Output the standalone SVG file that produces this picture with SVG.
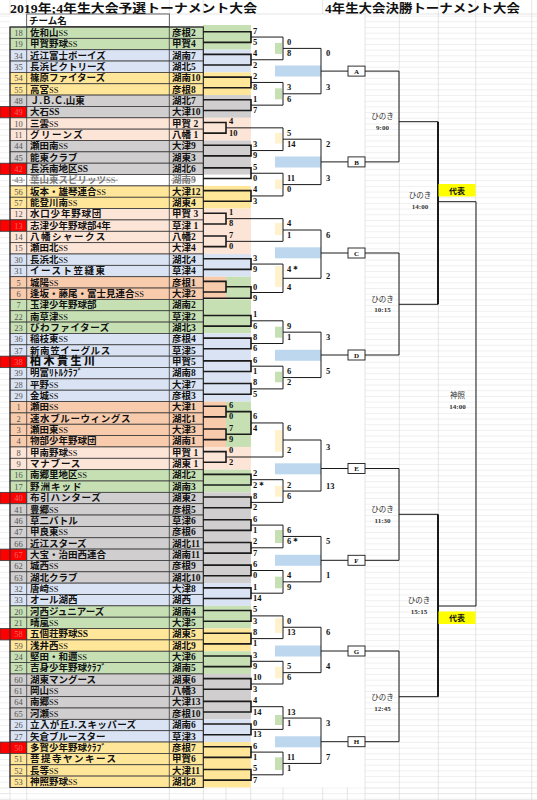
<svg xmlns="http://www.w3.org/2000/svg" width="537" height="800" viewBox="0 0 537 800">
<defs>
<pattern id="grid" patternUnits="userSpaceOnUse" x="0" y="4.3" width="537" height="5.675"><path d="M0 0.3H537" stroke="#dedede" stroke-width="0.6"/></pattern>
<style>
.G{fill:#c6e0b4}.B{fill:#dae3f3}.Y{fill:#ffe699}.R{fill:#d0cece}.P{fill:#fce4d6}.O{fill:#f8cbad}.W{fill:#ffffff}
.row rect{stroke:#3a3a3a;stroke-width:0.8}
.red{fill:#ff0000}
.n{font:8.5px "Liberation Serif",serif;fill:#555;text-anchor:middle}
.rn{fill:#e86a6a}
.t{font:bold 9.5px "Liberation Serif","Noto Sans CJK JP",serif;fill:#111}
.s{font-weight:normal;font-size:8.5px}
.big{font-size:11px;letter-spacing:2.5px;font-weight:900}
.k{fill:#7a7a7a}
.sc{font:bold 8.5px "Liberation Serif",serif;fill:#111}
.ln{fill:none;stroke:#1a1a1a;stroke-width:1}
.l1{fill:none;stroke:#1a1a1a;stroke-width:1.6}
.thick{fill:none;stroke:#1a1a1a;stroke-width:2}
.gl{stroke:#d4d4d4;stroke-width:0.6}
.tick-g{fill:#c6e0b4}.tick-y{fill:#fff2cc}
.band{fill:#bdd7ee}
.box rect{fill:#fff;stroke:#1a1a1a;stroke-width:0.9}
.box text{font:bold 7px "Liberation Serif",serif;fill:#111;text-anchor:middle}
.lab{font:7.5px "Liberation Serif","Noto Sans CJK JP",serif;fill:#333;text-anchor:middle}
.tm{font:bold 7px "Liberation Serif",serif;fill:#333;text-anchor:middle}
.rep rect{fill:#ffff00}
.rep text{font:bold 8px "Liberation Serif","Noto Sans CJK JP",serif;fill:#111;text-anchor:middle}
.title{font:bold 12px "Liberation Serif","Noto Sans CJK JP",serif;fill:#111}
</style>
</defs>
<rect x="0" y="0" width="537" height="800" fill="#ffffff"/>
<g id="sheet-grid">
<rect x="365" y="14" width="172" height="786" fill="url(#grid)"/>
<rect x="0" y="14" width="10" height="786" fill="url(#grid)"/>
<rect x="0" y="787.5" width="537" height="12.5" fill="url(#grid)"/>
<path class="gl" d="M399.3 0V800M438.3 0V800M475.7 0V800M531.7 0V800M365 0V800M10 0V14M26.7 0V14M169.3 0V14M203.3 0V14M250.7 0V14M322.7 0V14M347.3 0V14M0 14H537M10 787.5V800M26.7 787.5V800M169.3 787.5V800M203.3 787.5V800M226 787.5V800M250.7 787.5V800M283 787.5V800M322.7 787.5V800M347.3 787.5V800"/>
</g>
<text class="title" x="10" y="12.5" textLength="247" lengthAdjust="spacingAndGlyphs">2019年;4年生大会予選トーナメント大会</text>
<text class="title" x="325" y="12.5" textLength="195" lengthAdjust="spacingAndGlyphs">4年生大会決勝トーナメント大会</text>

<g id="bands">
<rect class="G" x="203" y="25" width="48" height="24.7"/>
<rect class="B" x="203" y="49.7" width="48" height="22.7"/>
<rect class="Y" x="203" y="72.4" width="48" height="22.7"/>
<rect class="R" x="203" y="95.1" width="48" height="22.7"/>
<rect class="P" x="203" y="117.8" width="48" height="22.7"/>
<rect class="R" x="203" y="140.5" width="48" height="34.05"/>
<rect class="Y" x="203" y="185.9" width="48" height="22.7"/>
<rect class="P" x="203" y="208.6" width="48" height="45.4"/>
<rect class="B" x="203" y="254" width="48" height="22.7"/>
<rect class="O" x="203" y="276.7" width="23" height="22.7"/>
<rect class="G" x="226" y="276.7" width="25" height="22.7"/>
<rect class="G" x="203" y="299.4" width="48" height="34.05"/>
<rect class="B" x="203" y="333.45" width="48" height="68.1"/>
<rect class="O" x="203" y="401.55" width="23" height="45.4"/>
<rect class="G" x="226" y="401.55" width="25" height="45.4"/>
<rect class="P" x="203" y="446.95" width="48" height="22.7"/>
<rect class="G" x="203" y="469.65" width="48" height="22.7"/>
<rect class="R" x="203" y="492.35" width="48" height="90.8"/>
<rect class="B" x="203" y="583.15" width="48" height="22.7"/>
<rect class="G" x="203" y="605.85" width="48" height="22.7"/>
<rect class="Y" x="203" y="628.55" width="48" height="22.7"/>
<rect class="G" x="203" y="651.25" width="48" height="22.7"/>
<rect class="R" x="203" y="673.95" width="48" height="45.4"/>
<rect class="B" x="203" y="719.35" width="48" height="22.7"/>
<rect class="Y" x="203" y="742.05" width="48" height="45.4"/>
</g>

<g id="header"><rect x="26.7" y="14" width="142.6" height="12.5" fill="#fff" stroke="#3a3a3a" stroke-width="0.8"/><text class="t" x="29" y="24">チーム名</text></g>

<g id="teams">
<g id="t18" class="row"><rect class="G" x="10" y="27" width="193.3" height="11.35"/><text class="n" x="18.5" y="35.8">18</text><text class="t" x="30" y="35.8">佐和山<tspan class="s">SS</tspan></text><text class="t" x="172" y="35.8">彦根2</text></g>
<g id="t19" class="row"><rect class="G" x="10" y="38.35" width="193.3" height="11.35"/><text class="n" x="18.5" y="47.15">19</text><text class="t" x="30" y="47.15">甲賀野球<tspan class="s">SS</tspan></text><text class="t" x="172" y="47.15">甲賀4</text></g>
<g id="t34" class="row"><rect class="B" x="10" y="49.7" width="193.3" height="11.35"/><text class="n" x="18.5" y="58.5">34</text><text class="t" x="30" y="58.5">近江富士ボーイズ</text><text class="t" x="172" y="58.5">湖南7</text></g>
<g id="t35" class="row"><rect class="B" x="10" y="61.05" width="193.3" height="11.35"/><text class="n" x="18.5" y="69.85">35</text><text class="t" x="30" y="69.85">長浜ビクトリーズ</text><text class="t" x="172" y="69.85">湖北5</text></g>
<g id="t54" class="row"><rect class="Y" x="10" y="72.4" width="193.3" height="11.35"/><text class="n" x="18.5" y="81.2">54</text><text class="t" x="30" y="81.2">篠原ファイターズ</text><text class="t" x="172" y="81.2">湖南10</text></g>
<g id="t55" class="row"><rect class="Y" x="10" y="83.75" width="193.3" height="11.35"/><text class="n" x="18.5" y="92.55">55</text><text class="t" x="30" y="92.55">高宮<tspan class="s">SS</tspan></text><text class="t" x="172" y="92.55">彦根8</text></g>
<g id="t48" class="row"><rect class="R" x="10" y="95.1" width="193.3" height="11.35"/><text class="n" x="18.5" y="103.9">48</text><text class="t" x="30" y="103.9">Ｊ.Ｂ.Ｃ.山東</text><text class="t" x="172" y="103.9">湖北7</text></g>
<g id="t49" class="row"><rect class="R" x="10" y="106.45" width="193.3" height="11.35"/><rect class="red" x="0" y="106.45" width="26.7" height="11.35"/><text class="n rn" x="18.5" y="115.25">49</text><text class="t" x="30" y="115.25">大石SS</text><text class="t" x="172" y="115.25">大津10</text></g>
<g id="t10" class="row"><rect class="P" x="10" y="117.8" width="193.3" height="11.35"/><text class="n" x="18.5" y="126.6">10</text><text class="t" x="30" y="126.6">三雲<tspan class="s">SS</tspan></text><text class="t" x="172" y="126.6">甲賀 2</text></g>
<g id="t11" class="row"><rect class="P" x="10" y="129.15" width="193.3" height="11.35"/><text class="n" x="18.5" y="137.95">11</text><text class="t" x="30" y="137.95" letter-spacing="1.5">グリーンズ</text><text class="t" x="172" y="137.95">八幡 1</text></g>
<g id="t44" class="row"><rect class="R" x="10" y="140.5" width="193.3" height="11.35"/><text class="n" x="18.5" y="149.3">44</text><text class="t" x="30" y="149.3">瀬田南<tspan class="s">SS</tspan></text><text class="t" x="172" y="149.3">大津9</text></g>
<g id="t45" class="row"><rect class="R" x="10" y="151.85" width="193.3" height="11.35"/><text class="n" x="18.5" y="160.65">45</text><text class="t" x="30" y="160.65">能東クラブ</text><text class="t" x="172" y="160.65">湖東3</text></g>
<g id="t42" class="row"><rect class="R" x="10" y="163.2" width="193.3" height="11.35"/><rect class="red" x="0" y="163.2" width="26.7" height="11.35"/><text class="n rn" x="18.5" y="172">42</text><text class="t" x="30" y="172">長浜南地区SS</text><text class="t" x="172" y="172">湖北6</text></g>
<g id="t43" class="row"><rect class="W" x="10" y="174.55" width="193.3" height="11.35"/><text class="n k" x="18.5" y="183.35">43</text><text class="t k" x="30" y="183.35" font-weight="normal">葉山東スピリッツ<tspan class="s">SS</tspan></text><text class="t k" x="172" y="183.35" font-weight="normal">湖南9</text><path d="M12 180.2H25M29 180.2H118M171 180.2H196" stroke="#777" stroke-width="0.7"/></g>
<g id="t56" class="row"><rect class="Y" x="10" y="185.9" width="193.3" height="11.35"/><text class="n" x="18.5" y="194.7">56</text><text class="t" x="30" y="194.7">坂本・雄琴連合<tspan class="s">SS</tspan></text><text class="t" x="172" y="194.7">大津12</text></g>
<g id="t57" class="row"><rect class="Y" x="10" y="197.25" width="193.3" height="11.35"/><text class="n" x="18.5" y="206.05">57</text><text class="t" x="30" y="206.05">能登川南<tspan class="s">SS</tspan></text><text class="t" x="172" y="206.05">湖東4</text></g>
<g id="t12" class="row"><rect class="P" x="10" y="208.6" width="193.3" height="11.35"/><text class="n" x="18.5" y="217.4">12</text><text class="t" x="30" y="217.4" letter-spacing="0.8">水口少年野球団</text><text class="t" x="172" y="217.4">甲賀 3</text></g>
<g id="t13" class="row"><rect class="P" x="10" y="219.95" width="193.3" height="11.35"/><rect class="red" x="0" y="219.95" width="26.7" height="11.35"/><text class="n rn" x="18.5" y="228.75">13</text><text class="t" x="30" y="228.75" font-weight="900">志津少年野球部4年</text><text class="t" x="172" y="228.75">草津 1</text></g>
<g id="t14" class="row"><rect class="P" x="10" y="231.3" width="193.3" height="11.35"/><text class="n" x="18.5" y="240.1">14</text><text class="t" x="30" y="240.1" letter-spacing="1.5">八幡シャークス</text><text class="t" x="172" y="240.1">八幡2</text></g>
<g id="t15" class="row"><rect class="P" x="10" y="242.65" width="193.3" height="11.35"/><text class="n" x="18.5" y="251.45">15</text><text class="t" x="30" y="251.45">瀬田北<tspan class="s">SS</tspan></text><text class="t" x="172" y="251.45">大津4</text></g>
<g id="t30" class="row"><rect class="B" x="10" y="254" width="193.3" height="11.35"/><text class="n" x="18.5" y="262.8">30</text><text class="t" x="30" y="262.8">長浜北<tspan class="s">SS</tspan></text><text class="t" x="172" y="262.8">湖北4</text></g>
<g id="t31" class="row"><rect class="B" x="10" y="265.35" width="193.3" height="11.35"/><text class="n" x="18.5" y="274.15">31</text><text class="t" x="30" y="274.15" letter-spacing="1.5">イースト笠縫東</text><text class="t" x="172" y="274.15">草津4</text></g>
<g id="t5" class="row"><rect class="O" x="10" y="276.7" width="193.3" height="11.35"/><text class="n" x="18.5" y="285.5">5</text><text class="t" x="30" y="285.5">城陽<tspan class="s">SS</tspan></text><text class="t" x="172" y="285.5">彦根1</text></g>
<g id="t6" class="row"><rect class="O" x="10" y="288.05" width="193.3" height="11.35"/><text class="n" x="18.5" y="296.85">6</text><text class="t" x="30" y="296.85">逢坂・藤尾・富士見連合<tspan class="s">SS</tspan></text><text class="t" x="172" y="296.85">大津2</text></g>
<g id="t7" class="row"><rect class="G" x="10" y="299.4" width="193.3" height="11.35"/><text class="n" x="18.5" y="308.2">7</text><text class="t" x="30" y="308.2">玉津少年野球部</text><text class="t" x="172" y="308.2">湖南2</text></g>
<g id="t22" class="row"><rect class="G" x="10" y="310.75" width="193.3" height="11.35"/><text class="n" x="18.5" y="319.55">22</text><text class="t" x="30" y="319.55">南草津<tspan class="s">SS</tspan></text><text class="t" x="172" y="319.55">草津2</text></g>
<g id="t23" class="row"><rect class="G" x="10" y="322.1" width="193.3" height="11.35"/><text class="n" x="18.5" y="330.9">23</text><text class="t" x="30" y="330.9" letter-spacing="0.6">びわファイターズ</text><text class="t" x="172" y="330.9">湖北3</text></g>
<g id="t36" class="row"><rect class="B" x="10" y="333.45" width="193.3" height="11.35"/><text class="n" x="18.5" y="342.25">36</text><text class="t" x="30" y="342.25">稲枝東<tspan class="s">SS</tspan></text><text class="t" x="172" y="342.25">彦根4</text></g>
<g id="t37" class="row"><rect class="B" x="10" y="344.8" width="193.3" height="11.35"/><text class="n" x="18.5" y="353.6">37</text><text class="t" x="30" y="353.6" letter-spacing="0.6">新南笠イーグルス</text><text class="t" x="172" y="353.6">草津5</text></g>
<g id="t38" class="row"><rect class="B" x="10" y="356.15" width="193.3" height="11.35"/><rect class="red" x="0" y="356.15" width="26.7" height="11.35"/><text class="n rn" x="18.5" y="364.95">38</text><text class="t big" x="30" y="365.4">柏木貴生川</text><text class="t" x="172" y="364.95">甲賀5</text></g>
<g id="t39" class="row"><rect class="B" x="10" y="367.5" width="193.3" height="11.35"/><text class="n" x="18.5" y="376.3">39</text><text class="t" x="30" y="376.3">明富ﾘﾄﾙｸﾗﾌﾞ</text><text class="t" x="172" y="376.3">湖南8</text></g>
<g id="t28" class="row"><rect class="B" x="10" y="378.85" width="193.3" height="11.35"/><text class="n" x="18.5" y="387.65">28</text><text class="t" x="30" y="387.65">平野<tspan class="s">SS</tspan></text><text class="t" x="172" y="387.65">大津7</text></g>
<g id="t29" class="row"><rect class="B" x="10" y="390.2" width="193.3" height="11.35"/><text class="n" x="18.5" y="399">29</text><text class="t" x="30" y="399">金城<tspan class="s">SS</tspan></text><text class="t" x="172" y="399">彦根3</text></g>
<g id="t1" class="row"><rect class="O" x="10" y="401.55" width="193.3" height="11.35"/><text class="n" x="18.5" y="410.35">1</text><text class="t" x="30" y="410.35">瀬田<tspan class="s">SS</tspan></text><text class="t" x="172" y="410.35">大津1</text></g>
<g id="t2" class="row"><rect class="O" x="10" y="412.9" width="193.3" height="11.35"/><text class="n" x="18.5" y="421.7">2</text><text class="t" x="30" y="421.7" letter-spacing="0.6">速水ブルーウィングス</text><text class="t" x="172" y="421.7">湖北1</text></g>
<g id="t3" class="row"><rect class="O" x="10" y="424.25" width="193.3" height="11.35"/><text class="n" x="18.5" y="433.05">3</text><text class="t" x="30" y="433.05">瀬田東<tspan class="s">SS</tspan></text><text class="t" x="172" y="433.05">大津3</text></g>
<g id="t4" class="row"><rect class="O" x="10" y="435.6" width="193.3" height="11.35"/><text class="n" x="18.5" y="444.4">4</text><text class="t" x="30" y="444.4">物部少年野球団</text><text class="t" x="172" y="444.4">湖南1</text></g>
<g id="t8" class="row"><rect class="P" x="10" y="446.95" width="193.3" height="11.35"/><text class="n" x="18.5" y="455.75">8</text><text class="t" x="30" y="455.75">甲南野球<tspan class="s">SS</tspan></text><text class="t" x="172" y="455.75">甲賀 1</text></g>
<g id="t9" class="row"><rect class="P" x="10" y="458.3" width="193.3" height="11.35"/><text class="n" x="18.5" y="467.1">9</text><text class="t" x="30" y="467.1" letter-spacing="0.8">マナブース</text><text class="t" x="172" y="467.1">湖東 1</text></g>
<g id="t16" class="row"><rect class="G" x="10" y="469.65" width="193.3" height="11.35"/><text class="n" x="18.5" y="478.45">16</text><text class="t" x="30" y="478.45">南郷里地区<tspan class="s">SS</tspan></text><text class="t" x="172" y="478.45">湖北2</text></g>
<g id="t17" class="row"><rect class="G" x="10" y="481" width="193.3" height="11.35"/><text class="n" x="18.5" y="489.8">17</text><text class="t" x="30" y="489.8" letter-spacing="1">野洲キッド</text><text class="t" x="172" y="489.8">湖南3</text></g>
<g id="t40" class="row"><rect class="R" x="10" y="492.35" width="193.3" height="11.35"/><rect class="red" x="0" y="492.35" width="26.7" height="11.35"/><text class="n rn" x="18.5" y="501.15">40</text><text class="t" x="30" y="501.15" font-weight="900" letter-spacing="0.8">布引ハンターズ</text><text class="t" x="172" y="501.15">湖東2</text></g>
<g id="t41" class="row"><rect class="R" x="10" y="503.7" width="193.3" height="11.35"/><text class="n" x="18.5" y="512.5">41</text><text class="t" x="30" y="512.5">豊郷<tspan class="s">SS</tspan></text><text class="t" x="172" y="512.5">彦根5</text></g>
<g id="t46" class="row"><rect class="R" x="10" y="515.05" width="193.3" height="11.35"/><text class="n" x="18.5" y="523.85">46</text><text class="t" x="30" y="523.85">草二バトル</text><text class="t" x="172" y="523.85">草津6</text></g>
<g id="t47" class="row"><rect class="R" x="10" y="526.4" width="193.3" height="11.35"/><text class="n" x="18.5" y="535.2">47</text><text class="t" x="30" y="535.2">甲良東<tspan class="s">SS</tspan></text><text class="t" x="172" y="535.2">彦根6</text></g>
<g id="t66" class="row"><rect class="R" x="10" y="537.75" width="193.3" height="11.35"/><text class="n" x="18.5" y="546.55">66</text><text class="t" x="30" y="546.55">近江スターズ</text><text class="t" x="172" y="546.55">湖北11</text></g>
<g id="t67" class="row"><rect class="R" x="10" y="549.1" width="193.3" height="11.35"/><rect class="red" x="0" y="549.1" width="26.7" height="11.35"/><text class="n rn" x="18.5" y="557.9">67</text><text class="t" x="30" y="557.9" font-weight="900">大宝・治田西連合</text><text class="t" x="172" y="557.9">湖南11</text></g>
<g id="t62" class="row"><rect class="R" x="10" y="560.45" width="193.3" height="11.35"/><text class="n" x="18.5" y="569.25">62</text><text class="t" x="30" y="569.25">城西<tspan class="s">SS</tspan></text><text class="t" x="172" y="569.25">彦根9</text></g>
<g id="t63" class="row"><rect class="R" x="10" y="571.8" width="193.3" height="11.35"/><text class="n" x="18.5" y="580.6">63</text><text class="t" x="30" y="580.6">湖北クラブ</text><text class="t" x="172" y="580.6">湖北10</text></g>
<g id="t32" class="row"><rect class="B" x="10" y="583.15" width="193.3" height="11.35"/><text class="n" x="18.5" y="591.95">32</text><text class="t" x="30" y="591.95">唐崎<tspan class="s">SS</tspan></text><text class="t" x="172" y="591.95">大津8</text></g>
<g id="t33" class="row"><rect class="B" x="10" y="594.5" width="193.3" height="11.35"/><text class="n" x="18.5" y="603.3">33</text><text class="t" x="30" y="603.3">オール湖西</text><text class="t" x="172" y="603.3">湖西</text></g>
<g id="t20" class="row"><rect class="G" x="10" y="605.85" width="193.3" height="11.35"/><text class="n" x="18.5" y="614.65">20</text><text class="t" x="30" y="614.65">河西ジュニアーズ</text><text class="t" x="172" y="614.65">湖南4</text></g>
<g id="t21" class="row"><rect class="G" x="10" y="617.2" width="193.3" height="11.35"/><text class="n" x="18.5" y="626">21</text><text class="t" x="30" y="626">晴嵐<tspan class="s">SS</tspan></text><text class="t" x="172" y="626">大津5</text></g>
<g id="t58" class="row"><rect class="Y" x="10" y="628.55" width="193.3" height="11.35"/><rect class="red" x="0" y="628.55" width="26.7" height="11.35"/><text class="n rn" x="18.5" y="637.35">58</text><text class="t" x="30" y="637.35" font-weight="900">五個荘野球SS</text><text class="t" x="172" y="637.35">湖東5</text></g>
<g id="t59" class="row"><rect class="Y" x="10" y="639.9" width="193.3" height="11.35"/><text class="n" x="18.5" y="648.7">59</text><text class="t" x="30" y="648.7">浅井西<tspan class="s">SS</tspan></text><text class="t" x="172" y="648.7">湖北9</text></g>
<g id="t24" class="row"><rect class="G" x="10" y="651.25" width="193.3" height="11.35"/><text class="n" x="18.5" y="660.05">24</text><text class="t" x="30" y="660.05">堅田・和邇<tspan class="s">SS</tspan></text><text class="t" x="172" y="660.05">大津6</text></g>
<g id="t25" class="row"><rect class="G" x="10" y="662.6" width="193.3" height="11.35"/><text class="n" x="18.5" y="671.4">25</text><text class="t" x="30" y="671.4">吉身少年野球ｸﾗﾌﾞ</text><text class="t" x="172" y="671.4">湖南5</text></g>
<g id="t60" class="row"><rect class="R" x="10" y="673.95" width="193.3" height="11.35"/><text class="n" x="18.5" y="682.75">60</text><text class="t" x="30" y="682.75">湖東マングース</text><text class="t" x="172" y="682.75">湖東6</text></g>
<g id="t61" class="row"><rect class="R" x="10" y="685.3" width="193.3" height="11.35"/><text class="n" x="18.5" y="694.1">61</text><text class="t" x="30" y="694.1">岡山<tspan class="s">SS</tspan></text><text class="t" x="172" y="694.1">八幡3</text></g>
<g id="t64" class="row"><rect class="R" x="10" y="696.65" width="193.3" height="11.35"/><text class="n" x="18.5" y="705.45">64</text><text class="t" x="30" y="705.45">南郷<tspan class="s">SS</tspan></text><text class="t" x="172" y="705.45">大津13</text></g>
<g id="t65" class="row"><rect class="R" x="10" y="708" width="193.3" height="11.35"/><text class="n" x="18.5" y="716.8">65</text><text class="t" x="30" y="716.8">河瀬<tspan class="s">SS</tspan></text><text class="t" x="172" y="716.8">彦根10</text></g>
<g id="t26" class="row"><rect class="B" x="10" y="719.35" width="193.3" height="11.35"/><text class="n" x="18.5" y="728.15">26</text><text class="t" x="30" y="728.15" letter-spacing="0.4">立入が丘J.スキッパーズ</text><text class="t" x="172" y="728.15">湖南6</text></g>
<g id="t27" class="row"><rect class="B" x="10" y="730.7" width="193.3" height="11.35"/><text class="n" x="18.5" y="739.5">27</text><text class="t" x="30" y="739.5">矢倉ブルースター</text><text class="t" x="172" y="739.5">草津3</text></g>
<g id="t50" class="row"><rect class="Y" x="10" y="742.05" width="193.3" height="11.35"/><rect class="red" x="0" y="742.05" width="26.7" height="11.35"/><text class="n rn" x="18.5" y="750.85">50</text><text class="t" x="30" y="750.85" font-weight="900">多賀少年野球ｸﾗﾌﾞ</text><text class="t" x="172" y="750.85">彦根7</text></g>
<g id="t51" class="row"><rect class="Y" x="10" y="753.4" width="193.3" height="11.35"/><text class="n" x="18.5" y="762.2">51</text><text class="t" x="30" y="762.2" letter-spacing="1.5">菩提寺ヤンキース</text><text class="t" x="172" y="762.2">甲賀6</text></g>
<g id="t52" class="row"><rect class="Y" x="10" y="764.75" width="193.3" height="11.35"/><text class="n" x="18.5" y="773.55">52</text><text class="t" x="30" y="773.55">長等<tspan class="s">SS</tspan></text><text class="t" x="172" y="773.55">大津11</text></g>
<g id="t53" class="row"><rect class="Y" x="10" y="776.1" width="193.3" height="11.35"/><text class="n" x="18.5" y="784.9">53</text><text class="t" x="30" y="784.9">神照野球<tspan class="s">SS</tspan></text><text class="t" x="172" y="784.9">湖北8</text></g>
</g>
<g id="table-lines"><path d="M26.7 27V787.45M169.3 27V787.45" stroke="#3a3a3a" stroke-width="0.8"/><rect x="10" y="27" width="193.3" height="760.45" fill="none" stroke="#2a2a2a" stroke-width="1"/></g>

<g id="marks">
<rect class="tick-g" x="275" y="42.9" width="7" height="11"/>
<rect class="tick-g" x="275" y="88.3" width="7" height="11"/>
<rect class="tick-y" x="275" y="133" width="7" height="10.5"/>
<rect class="tick-y" x="275" y="179.5" width="7" height="9.5"/>
<rect class="tick-y" x="275" y="223" width="7" height="12"/>
<rect class="tick-y" x="275" y="266" width="7" height="21"/>
<rect class="tick-g" x="275" y="326.7" width="7" height="11"/>
<rect class="tick-g" x="275" y="371.7" width="7" height="10.6"/>
<rect class="tick-y" x="275" y="430" width="7" height="21.7"/>
<rect class="tick-y" x="275" y="485.7" width="7" height="11"/>
<rect class="tick-g" x="275" y="530" width="7" height="13"/>
<rect class="tick-g" x="275" y="576.7" width="7" height="11.6"/>
<rect class="tick-y" x="275" y="618" width="7" height="15"/>
<rect class="tick-y" x="275" y="666.7" width="7" height="11.6"/>
<rect class="tick-g" x="275" y="715" width="7" height="10"/>
<rect class="tick-g" x="275" y="757.3" width="7" height="12.7"/>
<rect class="band" x="275" y="65.5" width="46" height="11"/>
<rect class="band" x="275" y="156.5" width="46" height="11"/>
<rect class="band" x="275" y="247.3" width="46" height="11"/>
<rect class="band" x="275" y="349.8" width="46" height="11"/>
<rect class="band" x="275" y="463.3" width="46" height="11"/>
<rect class="band" x="275" y="554.8" width="46" height="11"/>
<rect class="band" x="275" y="645.5" width="46" height="11"/>
<rect class="band" x="275" y="736.3" width="46" height="11"/>
</g>

<g id="connectors">
<path class="l1" d="M203 31.7H251V42.35H203M203 54.4H251V65.05H203M203 77.1H251V87.75H203M203 99.8H251V110.45H203M203 145.2H251V155.85H203M203 167.9H251V178.55H203M203 190.6H251V201.25H203M203 258.7H251V269.35H203M203 315.45H251V326.1H203M203 338.15H251V348.8H203M203 360.85H251V371.5H203M203 383.55H251V394.2H203M203 474.35H251V485H203M203 497.05H251V507.7H203M203 519.75H251V530.4H203M203 542.45H251V553.1H203M203 565.15H251V575.8H203M203 587.85H251V598.5H203M203 610.55H251V621.2H203M203 633.25H251V643.9H203M203 655.95H251V666.6H203M203 678.65H251V689.3H203M203 701.35H251V712H203M203 724.05H251V734.7H203M203 746.75H251V757.4H203M203 769.45H251V780.1H203"/>
<path class="l1" d="M203 122.5H226V133.15H203M203 213.3H226V223.95H203M203 236H226V246.65H203M203 281.4H226V292.05H203M203 406.25H226V416.9H203M203 428.95H226V439.6H203M203 451.65H226V462.3H203M226 286.7H251V298.3H203M226 411.6H251V434.3H226"/>
<path class="ln" d="M251 37.05H283V59.75H251M251 82.45H283V105.15H251M226 127.85H283V150.55H251M251 173.25H283V195.95H251M226 218.65H283V241.35H226M251 264.05H283V292.5H251M251 320.8H283V343.5H251M251 366.2H283V388.9H251M251 422.95H283V457H226M251 479.7H283V502.4H251M251 525.1H283V547.8H251M251 570.5H283V593.2H251M251 615.9H283V638.6H251M251 661.3H283V684H251M251 706.7H283V729.4H251M251 752.1H283V774.8H251"/>
<path class="ln" d="M283 48.4H321V93.8H283M321 71.1H348M283 139.2H321V184.6H283M321 161.9H348M283 230H321V278.3H283M321 253H348M283 332.15H321V377.55H283M321 355H348M283 440H321V491.05H283M321 468.5H348M283 536.45H321V581.85H283M321 560.3H348M283 627.25H321V672.65H283M321 651H348M283 718.05H321V763.45H283M321 741.7H348"/>
<path class="ln" d="M365 71.1H399V161.9H365M399 121.7H438M365 253H399V355H365M399 304.3H438M365 468.5H399V560.3H365M399 514.3H438M365 651H399V741.7H365M399 696.7H438M438 201.7H476V606H438"/>
<path class="thick" d="M438 121.7V304.3M438 514.3V696.7"/>
</g>

<g id="scores" class="sc">
<text x="253" y="33.5">7</text><text x="253" y="44.85">5</text><text x="253" y="56.2">4</text><text x="253" y="67.55">2</text><text x="253" y="78.9">2</text><text x="253" y="90.25">8</text><text x="253" y="101.6">1</text><text x="253" y="112.95">7</text>
<text x="253" y="147">3</text><text x="253" y="158.35">9</text><text x="253" y="169.7">5</text><text x="253" y="181.05">0</text><text x="253" y="192.4">4</text><text x="253" y="203.75">3</text>
<text x="253" y="260.5">3</text><text x="253" y="271.85">9</text><text x="253" y="289.5">0</text><text x="253" y="300.8">9</text>
<text x="253" y="317.25">1</text><text x="253" y="328.6">6</text><text x="253" y="339.95">8</text><text x="253" y="351.3">6</text><text x="253" y="362.65">6</text><text x="253" y="374">1</text><text x="253" y="385.35">8</text><text x="253" y="396.7">5</text>
<text x="253" y="419.4">6</text><text x="253" y="430.75">4</text>
<text x="253" y="476.15">2</text><text x="253" y="487.5">2＊</text><text x="253" y="498.85">8</text><text x="253" y="510.2">2</text><text x="253" y="521.55">6</text><text x="253" y="532.9">1</text><text x="253" y="544.25">2</text><text x="253" y="555.6">7</text><text x="253" y="566.95">6</text><text x="253" y="578.3">0</text><text x="253" y="589.65">1</text><text x="253" y="601">14</text>
<text x="253" y="612.35">5</text><text x="253" y="623.7">3</text><text x="253" y="635.05">8</text><text x="253" y="646.4">1</text><text x="253" y="657.75">3</text><text x="253" y="669.1">9</text><text x="253" y="680.45">10</text><text x="253" y="691.8">3</text>
<text x="253" y="703.15">4</text><text x="253" y="714.5">14</text><text x="253" y="725.85">0</text><text x="253" y="737.2">13</text><text x="253" y="748.55">6</text><text x="253" y="759.9">1</text><text x="253" y="771.25">5</text><text x="253" y="782.6">7</text>
<text x="229" y="124.3">4</text><text x="229" y="135.65">10</text><text x="229" y="215.1">1</text><text x="229" y="226.45">8</text><text x="229" y="237.8">7</text><text x="229" y="249.15">0</text><text x="229" y="408.05">6</text><text x="229" y="419.4">0</text><text x="229" y="430.75">7</text><text x="229" y="442.1">9</text><text x="229" y="453.45">0</text><text x="229" y="464.8">2</text>
<text x="287" y="44.85">0</text><text x="287" y="56.2">8</text><text x="287" y="90.25">3</text><text x="287" y="101.6">6</text><text x="287" y="135.65">5</text><text x="287" y="147">14</text><text x="287" y="181.05">11</text><text x="287" y="192.4">0</text><text x="287" y="226.45">4</text><text x="287" y="237.8">1</text><text x="287" y="271.85">4＊</text><text x="287" y="289.5">4</text>
<text x="287" y="328.6">9</text><text x="287" y="339.95">1</text><text x="287" y="374">6</text><text x="287" y="385.35">2</text><text x="287" y="430.75">6</text><text x="287" y="453.45">2</text><text x="287" y="487.5">2</text><text x="287" y="498.85">6</text><text x="287" y="532.9">6</text><text x="287" y="544.25">6＊</text><text x="287" y="578.3">4</text><text x="287" y="589.65">9</text>
<text x="287" y="623.7">0</text><text x="287" y="635.05">13</text><text x="287" y="669.1">5</text><text x="287" y="680.45">6</text><text x="287" y="714.5">13</text><text x="287" y="725.85">1</text><text x="287" y="759.9">11</text><text x="287" y="771.25">1</text>
<text x="326" y="56.2">0</text><text x="326" y="90.25">3</text><text x="326" y="147">2</text><text x="326" y="181.05">3</text><text x="326" y="237.8">6</text><text x="326" y="279">2</text><text x="326" y="339.95">3</text><text x="326" y="374">5</text><text x="326" y="450">3</text><text x="326" y="488.5">13</text><text x="326" y="544.25">5</text><text x="326" y="578.3">1</text><text x="326" y="635.05">6</text><text x="326" y="669.1">4</text><text x="326" y="725.85">3</text><text x="326" y="759.9">7</text>
</g>

<g id="nA" class="box"><rect x="348" y="66.1" width="17" height="10"/><text x="356.5" y="73.7">A</text></g>
<g id="nB" class="box"><rect x="348" y="156.9" width="17" height="10"/><text x="356.5" y="164.5">B</text></g>
<g id="nC" class="box"><rect x="348" y="248" width="17" height="10"/><text x="356.5" y="255.6">C</text></g>
<g id="nD" class="box"><rect x="348" y="350" width="17" height="10"/><text x="356.5" y="357.6">D</text></g>
<g id="nE" class="box"><rect x="348" y="463.5" width="17" height="10"/><text x="356.5" y="471.1">E</text></g>
<g id="nF" class="box"><rect x="348" y="555.3" width="17" height="10"/><text x="356.5" y="562.9">F</text></g>
<g id="nG" class="box"><rect x="348" y="646" width="17" height="10"/><text x="356.5" y="653.6">G</text></g>
<g id="nH" class="box"><rect x="348" y="736.7" width="17" height="10"/><text x="356.5" y="744.3">H</text></g>

<g id="venues">
<text class="lab" x="382.5" y="119">ひのき</text><text class="tm" x="382.5" y="130">9:00</text>
<text class="lab" x="420" y="198">ひのき</text><text class="tm" x="420" y="209">14:00</text>
<text class="lab" x="382.5" y="301.5">ひのき</text><text class="tm" x="382.5" y="312">10:15</text>
<text class="lab" x="457.5" y="397.5">神照</text><text class="tm" x="457.5" y="409">14:00</text>
<text class="lab" x="382.5" y="511.5">ひのき</text><text class="tm" x="382.5" y="523">11:30</text>
<text class="lab" x="419" y="603">ひのき</text><text class="tm" x="419" y="614">15:15</text>
<text class="lab" x="382.5" y="699.5">ひのき</text><text class="tm" x="382.5" y="710.5">12:45</text>
</g>
<g id="rep1" class="rep"><rect x="438.5" y="184" width="37" height="12.5"/><text x="457" y="193.5">代表</text></g>
<g id="rep2" class="rep"><rect x="438.5" y="611.5" width="37" height="12.5"/><text x="457" y="621">代表</text></g>
</svg>
